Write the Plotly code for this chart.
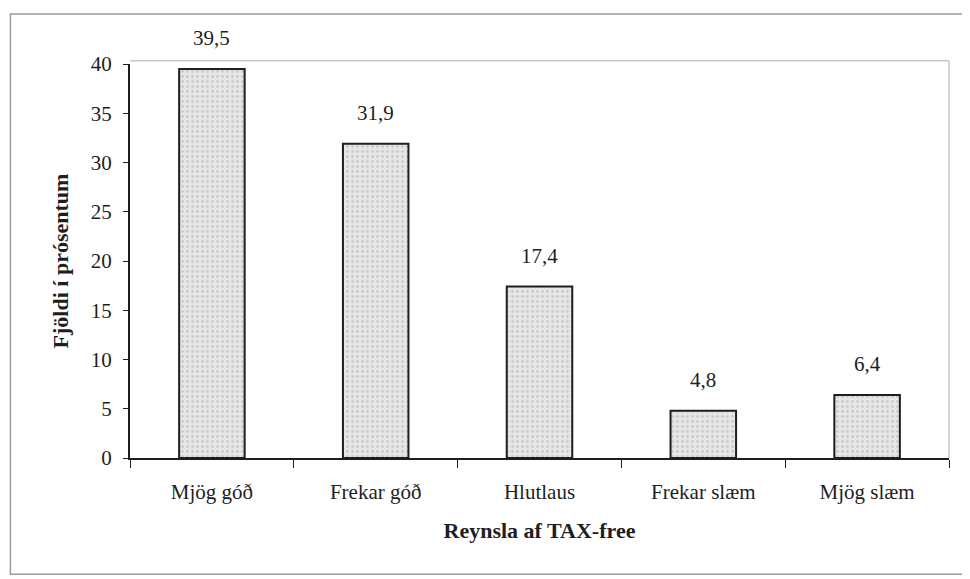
import plotly.graph_objects as go

categories = ["Mjög góð", "Frekar góð", "Hlutlaus", "Frekar slæm", "Mjög slæm"]
values = [39.5, 31.9, 17.4, 4.8, 6.4]
value_labels = ["39,5", "31,9", "17,4", "4,8", "6,4"]
y_ticks = [0, 5, 10, 15, 20, 25, 30, 35, 40]

FONT = "Liberation Serif, Times New Roman, serif"
INK = "#1e1e1e"

fig = go.Figure()

fig.add_trace(go.Bar(
    x=categories,
    y=values,
    width=0.4,
    marker=dict(
        color="#e6e6e6",
        line=dict(color=INK, width=2),
        pattern=dict(shape=".", fgcolor="#b0b0b0", bgcolor="#e6e6e6", size=5, solidity=0.25),
    ),
    hoverinfo="skip",
))

for cat, val, lab in zip(categories, values, value_labels):
    fig.add_annotation(
        x=cat, y=val, text=lab, showarrow=False,
        yanchor="bottom", yshift=17,
        font=dict(family=FONT, size=21, color=INK),
    )

# light plot-area border (top and right)
fig.add_shape(type="line", xref="paper", yref="paper", x0=0, x1=1, y0=1.008, y1=1.008,
              line=dict(color="#c8c8c8", width=1.5))
fig.add_shape(type="line", xref="paper", yref="paper", x0=1, x1=1, y0=0, y1=1.008,
              line=dict(color="#c8c8c8", width=1.5))

# outer frame
fig.add_shape(type="rect", xref="paper", yref="paper",
              x0=-0.146, x1=1.022, y0=-0.295, y1=1.127,
              line=dict(color="#9a9a9a", width=1.5))

# page has an 8px body margin, so the figure is shrunk by that amount
fig.update_layout(
    width=962, height=571,
    margin=dict(l=122, r=21, t=56, b=121),
    paper_bgcolor="white",
    plot_bgcolor="white",
    showlegend=False,
    font=dict(family=FONT, size=21, color=INK),
    xaxis=dict(
        showline=True, linecolor=INK, linewidth=2,
        ticks="outside", tickson="boundaries", ticklen=8, tickcolor=INK,
        ticklabelstandoff=14,
        showgrid=False,
        title=dict(text="<b>Reynsla af TAX-free</b>", font=dict(family=FONT, size=22), standoff=19),
        tickfont=dict(family=FONT, size=21),
    ),
    yaxis=dict(
        range=[0, 40],
        tickvals=y_ticks,
        showline=True, linecolor=INK, linewidth=2,
        ticks="outside", ticklen=5, tickcolor=INK,
        ticklabelstandoff=7,
        showgrid=False, zeroline=False,
        title=dict(text="<b>Fjöldi í prósentum</b>", font=dict(family=FONT, size=22), standoff=16),
        tickfont=dict(family=FONT, size=21),
    ),
)

fig.write_html("out.html")
